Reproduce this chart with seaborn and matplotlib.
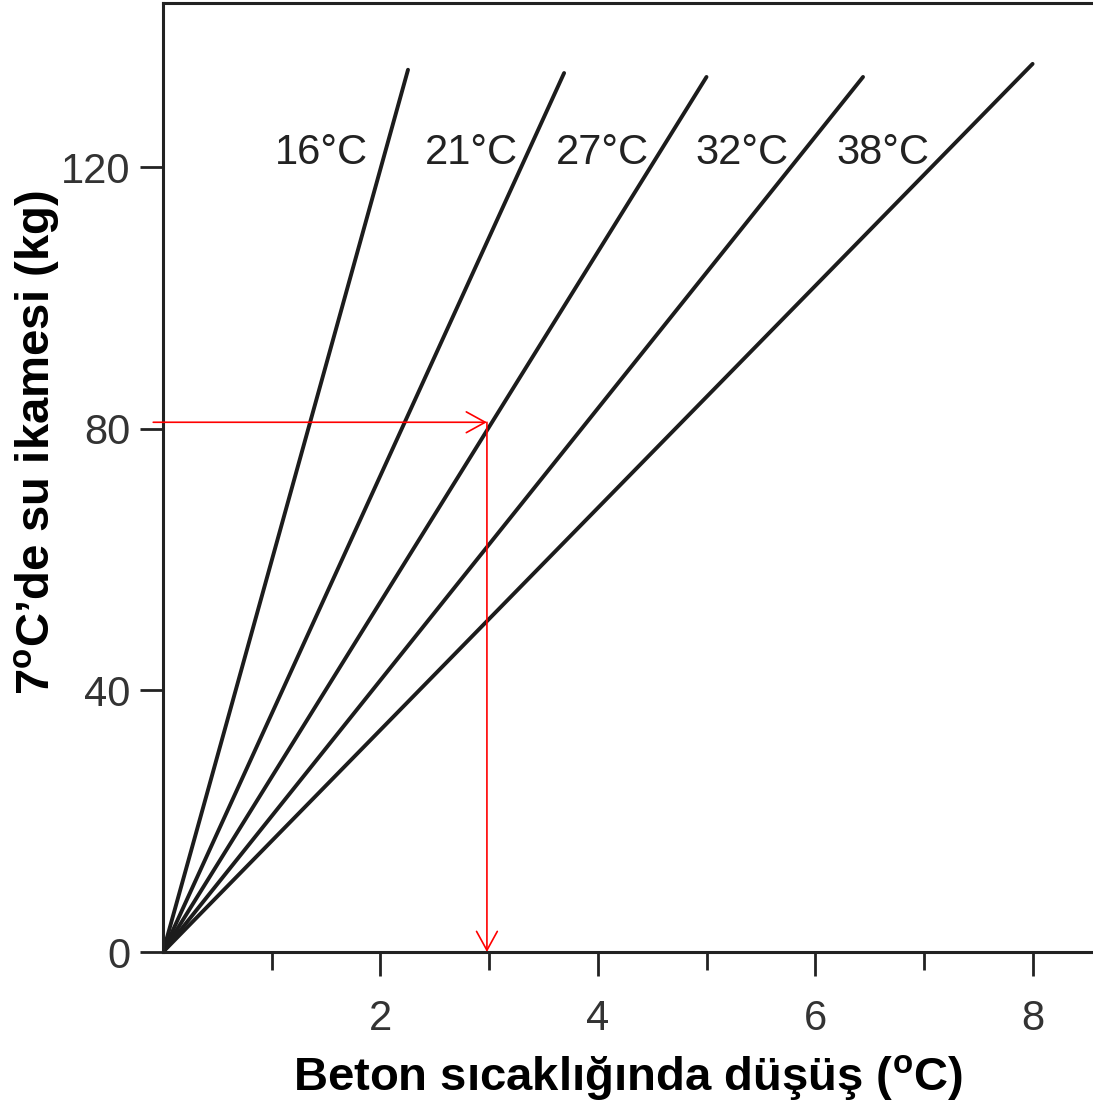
import matplotlib
matplotlib.use("Agg")
import matplotlib.pyplot as plt
import seaborn as sns
import pandas as pd
from matplotlib.ticker import FixedLocator

# Concrete temperature curves: each line starts at the origin and ends at these points
temps = ["16°C", "21°C", "27°C", "32°C", "38°C"]
end_drop = [2.254, 3.69, 5.0, 6.44, 8.0]          # temperature drop (°C) at line end
end_water = [134.9, 134.4, 133.8, 133.8, 135.8]   # water substitution (kg) at line end

# Label anchor points (data units)
label_x = [1.453, 2.842, 4.04, 5.33, 6.62]
label_y = [122.2, 122.2, 122.2, 122.2, 122.2]

# Worked example read-off
example_drop = 2.98
example_water = 81

x_major = [2, 4, 6, 8]
x_minor = [1, 3, 5, 7]
y_ticks = [0, 40, 80, 120]

sns.set_style("white")
plt.rcParams["font.family"] = ["Liberation Sans", "DejaVu Sans"]
plt.rcParams["mathtext.fontset"] = "custom"
plt.rcParams["mathtext.rm"] = "Liberation Sans:bold"

rows = []
for t, xe, ye in zip(temps, end_drop, end_water):
    rows.append({"temp": t, "drop": 0.0, "water": 0.0})
    rows.append({"temp": t, "drop": xe, "water": ye})
df = pd.DataFrame(rows)

fig = plt.figure(figsize=(10.93, 11.07), dpi=100)
ax = fig.add_axes([163 / 1093, 1 - 952 / 1107, 1 - 163 / 1093, (952 - 3) / 1107])

sns.lineplot(data=df, x="drop", y="water", hue="temp", palette=["#1c1c1c"] * 5,
             legend=False, linewidth=2.8, ax=ax, estimator=None, sort=False)

for t, lx, ly in zip(temps, label_x, label_y):
    ax.text(lx, ly, t, fontsize=30, color="#222222", ha="center", va="center")

arrow_kw = dict(arrowstyle="->,head_length=0.4,head_width=0.22", color="red",
                lw=1.2, shrinkA=0, shrinkB=0, mutation_scale=34)
ax.annotate("", xy=(example_drop, example_water), xytext=(-0.09, example_water),
            arrowprops=arrow_kw, annotation_clip=False)
ax.annotate("", xy=(example_drop, 0), xytext=(example_drop, example_water),
            arrowprops=arrow_kw)

ax.set_xlim(0, (1093 - 163) / 108.7)
ax.set_ylim(0, (952 - 3) / 6.54)

ax.xaxis.set_major_locator(FixedLocator(x_major))
ax.xaxis.set_minor_locator(FixedLocator(x_minor))
ax.set_yticks(y_ticks)
ax.tick_params(axis="x", which="major", direction="out", length=17, width=2,
               color="#222222", labelsize=30, labelcolor="#333333", pad=17, bottom=True)
ax.tick_params(axis="x", which="minor", direction="out", length=13, width=2,
               color="#222222", bottom=True)
ax.tick_params(axis="y", direction="out", length=16.5, width=2, color="#222222",
               labelsize=30, labelcolor="#333333", pad=7, left=True)

for side in ["left", "top", "bottom"]:
    ax.spines[side].set_visible(True)
    ax.spines[side].set_linewidth(2.2)
    ax.spines[side].set_color("#222222")
ax.spines["right"].set_visible(False)

ax.set_xlabel("Beton sıcaklığında düşüş ($^{\\mathrm{o}}$C)", fontsize=34,
              fontweight="bold", color="black", va="center")
ax.set_ylabel("7$^{\\mathrm{o}}$C’de su ikamesi (kg)", fontsize=34,
              fontweight="bold", color="black", va="center")
ax.xaxis.set_label_coords(0.5, (952 - 1078) / 949, transform=ax.transAxes)
ax.yaxis.set_label_coords((37 - 163) / 930, (952 - 443) / 949, transform=ax.transAxes)

fig.savefig("out.png", dpi=100)
